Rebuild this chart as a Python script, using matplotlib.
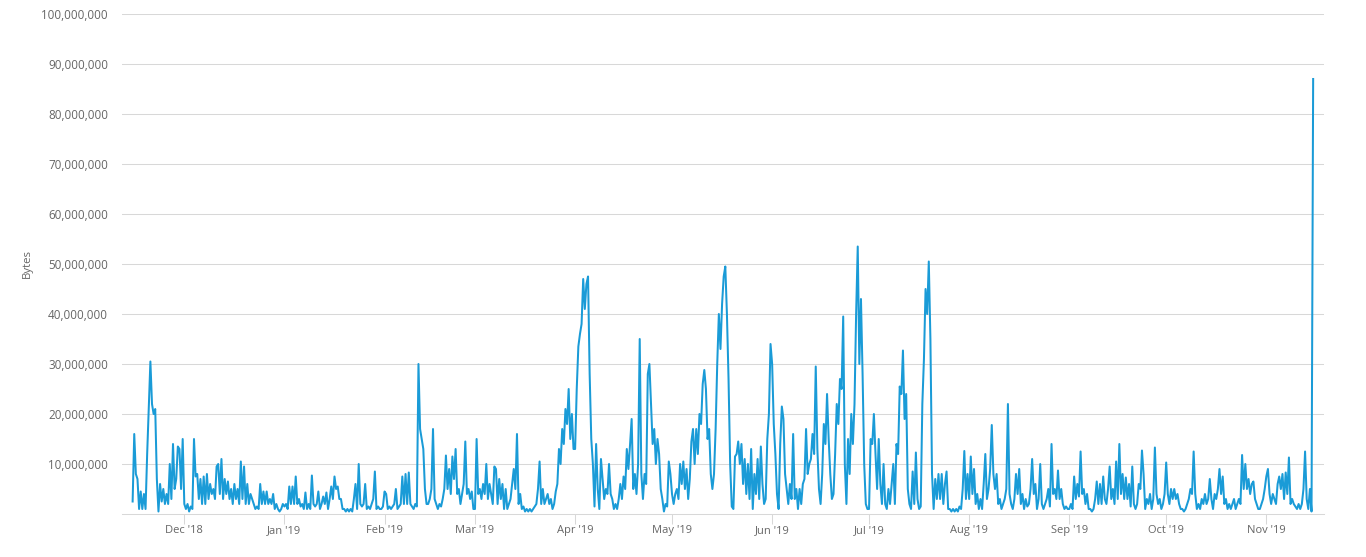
import matplotlib
matplotlib.use("Agg")
import matplotlib.pyplot as plt
import matplotlib.dates as mdates
import numpy as np
import pandas as pd

# ---- data (values in millions of bytes, 12-hour samples per month) ----
nov18 = [2.5, 16, 8, 7, 1, 4.5, 1, 4, 1, 12, 21, 30.5, 22, 20, 21, 7, 0.5, 6, 2.5, 5,
         2, 4, 2, 10, 3, 14, 5, 7, 13.5, 13, 5, 15]
dec18 = [2, 1, 2, 0.5, 1.5, 1, 15, 7.5, 8, 3, 7, 2, 7.5, 2, 8, 3, 6, 4, 5, 3,
         9.5, 10, 4, 11, 3, 7, 4, 6.5, 3, 5, 2, 6, 3, 5, 2, 10.5, 3, 9.5, 2, 6,
         2, 4, 3, 2, 1, 1.5, 1, 6, 2, 4.5, 2, 4.5, 2, 3, 2, 4, 1, 2, 1, 0.5, 1, 2]
jan19 = [1.5, 2, 1, 5.5, 2, 5.5, 2, 7.5, 2, 3, 1.5, 2, 1, 4.3, 1, 2, 1, 7.7, 2, 1.5,
         2, 4.5, 1, 2, 3.5, 2, 4.3, 1, 3, 5.5, 3, 7.5, 5, 5.5, 3, 3, 1, 1, 0.5, 1,
         0.5, 1, 0.5, 3, 6, 1, 10, 2, 1.5, 2, 6, 1, 1.5, 1, 2, 3, 8.5, 1, 1.5, 1, 1, 1.5]
feb19 = [4.5, 4, 1, 1.5, 1, 1.5, 2, 5, 1, 1.5, 2, 7.5, 2, 8, 2, 8.3, 2, 1.5, 1, 2,
         1.5, 30, 17, 15, 13, 5, 2, 2, 3, 5, 17, 3, 2, 1, 2, 1.5, 3, 5, 11.7, 5,
         9, 4, 11.5, 7, 13, 4, 5, 2, 4, 6, 14.5, 4, 5, 3, 4.5, 1]
mar19 = [1, 15, 4, 5, 3, 6, 4, 10, 3, 6, 4, 2, 9.5, 9, 2, 7, 3, 6, 1, 5,
         1, 2, 3, 6, 9, 5, 16, 2, 4, 1, 1.5, 0.5, 1, 0.5, 1, 0.5, 1, 1.5, 2, 5,
         10.5, 2, 5, 2, 3, 4, 2, 3, 1, 2, 4.5, 6, 13, 10, 17, 14, 21, 18, 25, 15, 20, 13]
apr19 = [13, 25, 33.5, 36, 38, 47, 41, 46, 47.5, 28, 15, 10, 1.5, 14, 5, 1, 11, 7, 3, 5,
         4, 10, 4, 3, 1, 2, 1, 3, 6, 3, 7.5, 5, 13, 9, 13.8, 19, 5, 8, 4, 10,
         35, 8, 3, 8, 6, 28, 30, 22, 14, 17, 10, 15, 12, 5, 3, 0.5, 2, 1.5, 10.5, 8]
may19 = [4, 2, 4, 5, 3, 10, 6, 10.5, 5, 9, 3, 7, 14.5, 17, 10, 17, 12, 20, 18, 26,
         28.8, 25, 15, 17, 8, 5, 8, 17, 30, 40, 33, 42, 47.5, 49.5, 40, 27, 10, 1.5, 1, 11.5,
         12, 14.5, 10, 14, 6, 11, 4, 10, 3, 13, 1, 8, 4, 11, 3, 13.5, 6, 2, 3, 15, 20, 34]
jun19 = [30, 18, 12, 4, 1, 14, 21.5, 19, 8, 5, 2, 6, 3, 16, 3, 5, 1, 5, 2, 6,
         7, 17, 8, 10, 11, 16, 12, 29.5, 13, 5, 2, 8, 18, 14, 24, 15, 8, 3, 4, 12,
         22, 18, 27, 25, 39.5, 10, 2, 15, 8, 20, 14, 22, 40, 53.5, 30, 43, 28, 10, 2, 1]
jul19 = [1, 15, 14, 20, 12, 5, 15, 6, 2, 10, 2, 1, 5, 2, 6, 10, 2, 14, 12, 25.5,
         24, 32.7, 19, 24, 5, 2, 1, 8.5, 2, 12.3, 3, 1, 1.5, 22, 31, 45, 40, 50.5, 35, 8,
         1, 7, 3, 8, 3, 8, 2, 6, 8.5, 1, 1, 0.5, 1, 0.5, 1, 0.5, 1.5, 1, 5, 12.6, 3, 8]
aug19 = [3, 11.5, 4, 9, 2, 4, 1, 3, 1, 6, 12, 3, 5, 9, 17.8, 8, 5, 8, 2, 3,
         1, 2, 3, 5, 22, 4, 2, 1, 3, 8, 4, 9, 2, 4, 1, 3, 1.5, 2, 5, 11,
         4, 6, 1, 3, 10, 2, 1, 2, 3, 5, 1.5, 14, 4, 5, 3, 8.7, 3, 5, 2, 1, 1.5, 1]
sep19 = [1, 2, 1, 7.5, 3, 6, 3.5, 12.5, 4, 5, 2, 4, 1, 1, 0.5, 1, 3, 6.5, 2, 6,
         2, 7.5, 3, 2, 5, 9.5, 3, 5, 2, 10.5, 3, 14, 4, 8, 3, 7.3, 3, 6, 1.5, 9.5,
         2, 1, 2, 6, 5, 12.7, 8, 1, 3, 2, 4, 1, 3, 13.3, 4, 2, 3, 1, 2, 4]
oct19 = [10.3, 4, 2, 5, 3, 5, 3, 4, 2, 1, 1, 0.5, 1, 2, 3, 5, 4, 12.5, 4, 1,
         2, 1, 3, 2, 4, 2, 3, 7, 3, 1, 4, 3, 5, 9, 4, 7.5, 2, 3, 1, 2,
         1, 2, 3, 1, 2, 3, 2, 11.8, 5, 10, 5, 7, 4, 6, 6.5, 3, 2, 1, 1, 2, 3, 5]
nov19 = [7.5, 9, 4, 2, 4, 3, 2, 6, 7.5, 5, 8, 3, 8.3, 4, 11.3, 2, 3, 2, 1.5, 1,
         2, 1, 2, 5, 12.5, 3, 1, 5, 0.5, 87]

month_spans = [
    ("2018-11-15", "2018-12-01", nov18),
    ("2018-12-01", "2019-01-01", dec18),
    ("2019-01-01", "2019-02-01", jan19),
    ("2019-02-01", "2019-03-01", feb19),
    ("2019-03-01", "2019-04-01", mar19),
    ("2019-04-01", "2019-05-01", apr19),
    ("2019-05-01", "2019-06-01", may19),
    ("2019-06-01", "2019-07-01", jun19),
    ("2019-07-01", "2019-08-01", jul19),
    ("2019-08-01", "2019-09-01", aug19),
    ("2019-09-01", "2019-10-01", sep19),
    ("2019-10-01", "2019-11-01", oct19),
    ("2019-11-01", "2019-11-16", nov19),
]
UNIT = 1e6
y_ticks = [10e6, 20e6, 30e6, 40e6, 50e6, 60e6, 70e6, 80e6, 90e6, 100e6]
x_tick_dates = ["2018-12-01", "2019-01-01", "2019-02-01", "2019-03-01", "2019-04-01",
                "2019-05-01", "2019-06-01", "2019-07-01", "2019-08-01", "2019-09-01",
                "2019-10-01", "2019-11-01"]
x_tick_labels = ["Dec '18", "Jan '19", "Feb '19", "Mar '19", "Apr '19", "May '19",
                 "Jun '19", "Jul '19", "Aug '19", "Sep '19", "Oct '19", "Nov '19"]

times, values = [], []
for s, e, v in month_spans:
    s, e = pd.Timestamp(s), pd.Timestamp(e)
    n = len(v)
    times.extend([s + (e - s) * i / n for i in range(n)])
    values.extend(v)
values = np.array(values) * UNIT

plt.rcParams["font.family"] = ["Open Sans", "DejaVu Sans"]
W, H = 1366, 557
fig = plt.figure(figsize=(W / 100, H / 100), dpi=100)
L, R, T, B = 122, 1324, 14, 514
ax = fig.add_axes([L / W, (H - B) / H, (R - L) / W, (B - T) / H])

grid_c = "#d8d8d8"
txt_c = "#666666"

ax.plot(times, values, color="#1a9bd7", lw=1.45, solid_joinstyle="round", zorder=3)

ax.set_ylim(0, 100e6)
ax.set_yticks(y_ticks)
ax.set_yticklabels([f"{int(t):,}" for t in y_ticks])
ax.yaxis.grid(True, color=grid_c, lw=0.75)
ax.set_axisbelow(True)

xl = pd.Timestamp("2018-12-01") - pd.Timedelta(days=19.29)
xr = pd.Timestamp("2019-11-01") + pd.Timedelta(days=17.86)
ax.set_xlim(xl, xr)
ax.set_xticks([pd.Timestamp(d) for d in x_tick_dates])
ax.set_xticklabels(x_tick_labels)

for sp in ("top", "right", "left"):
    ax.spines[sp].set_visible(False)
ax.spines["bottom"].set_color(grid_c)
ax.spines["bottom"].set_linewidth(0.75)

ax.tick_params(axis="y", length=0, pad=10, labelsize=8.4, labelcolor=txt_c)
ax.tick_params(axis="x", length=7.2, width=0.75, color=grid_c, direction="out",
               pad=1, labelsize=8.0, labelcolor=txt_c)

fig.text(27 / W, 1 - 264 / H, "Bytes", rotation=90, ha="center", va="center",
         fontsize=8.2, color=txt_c)

fig.savefig("out.png", dpi=100, facecolor="white")
